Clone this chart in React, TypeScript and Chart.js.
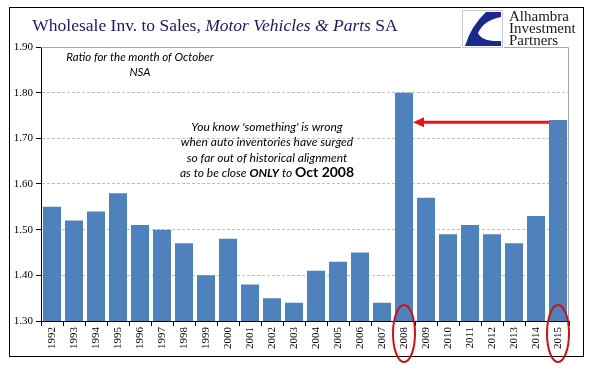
import React, { useEffect, useRef } from "react";
import { Chart, registerables } from "chart.js";

Chart.register(...registerables);

const years = [
  "1992", "1993", "1994", "1995", "1996", "1997", "1998", "1999", "2000", "2001", "2002", "2003",
  "2004", "2005", "2006", "2007", "2008", "2009", "2010", "2011", "2012", "2013", "2014", "2015",
];
const ratios = [
  1.55, 1.52, 1.54, 1.58, 1.51, 1.50, 1.47, 1.40, 1.48, 1.38, 1.35, 1.34,
  1.41, 1.43, 1.45, 1.34, 1.80, 1.57, 1.49, 1.51, 1.49, 1.47, 1.53, 1.74,
];
const yMin = 1.3;
const yMax = 1.9;
const yStep = 0.1;
const highlightedYears = ["2008", "2015"];
const arrowLevel = 1.735;

const titleParts = [
  { text: "Wholesale Inv. to Sales, ", italic: false },
  { text: "Motor Vehicles & Parts", italic: true },
  { text: " SA", italic: false },
];
const logoLines = ["Alhambra", "Investment", "Partners"];
const noteLines = ["Ratio for the month of October", "NSA"];
const calloutLines = [
  "You know 'something' is wrong",
  "when auto inventories have surged",
  "so far out of historical alignment",
];

const decor = {
  id: "decor",
  afterDraw(chart: any) {
    const ctx = chart.ctx as CanvasRenderingContext2D;
    const { chartArea, scales } = chart;
    const xs = scales.x;
    const ys = scales.y;
    ctx.save();

    // plot border top/right
    ctx.strokeStyle = "#A6A6A6";
    ctx.lineWidth = 1;
    ctx.beginPath();
    ctx.moveTo(chartArea.left, chartArea.top + 0.5);
    ctx.lineTo(chartArea.right - 0.5, chartArea.top + 0.5);
    ctx.lineTo(chartArea.right - 0.5, chartArea.bottom);
    ctx.stroke();

    // outer frame
    ctx.strokeStyle = "#000";
    ctx.lineWidth = 1;
    ctx.strokeRect(9.5, 7.5, 574, 349);

    // title
    const tFont = (it: boolean) => `${it ? "italic " : ""}17.5px "Liberation Serif", serif`;
    let total = 0;
    for (const p of titleParts) {
      ctx.font = tFont(p.italic);
      total += ctx.measureText(p.text).width;
    }
    let tx = 215 - total / 2;
    ctx.fillStyle = "#1F2060";
    ctx.textBaseline = "alphabetic";
    ctx.textAlign = "left";
    for (const p of titleParts) {
      ctx.font = tFont(p.italic);
      ctx.fillText(p.text, tx, 31);
      tx += ctx.measureText(p.text).width;
    }

    // logo box
    ctx.fillStyle = "#fff";
    ctx.fillRect(461, 9, 43, 40);
    ctx.strokeStyle = "#C8C8C8";
    ctx.strokeRect(462.5, 10.5, 40, 37);
    ctx.fillStyle = "#1B2A8A";
    ctx.beginPath();
    ctx.moveTo(501, 12);
    ctx.lineTo(486, 12);
    ctx.quadraticCurveTo(471, 26, 465, 46);
    ctx.lineTo(501, 46);
    ctx.lineTo(501, 41);
    ctx.quadraticCurveTo(482, 42, 478, 33);
    ctx.quadraticCurveTo(484, 20, 501, 17);
    ctx.closePath();
    ctx.fill();
    ctx.fillStyle = "#1a1a1a";
    ctx.font = '15px "Liberation Serif", serif';
    logoLines.forEach((l, i) => ctx.fillText(l, 509, 21 + i * 12));

    // notes
    ctx.fillStyle = "#000";
    ctx.textAlign = "center";
    ctx.textBaseline = "middle";
    ctx.font = 'italic 11.5px Lato, sans-serif';
    ctx.fillText(noteLines[0], 140, 57);
    ctx.fillText(noteLines[1], 140, 72);

    ctx.font = 'italic 12px Lato, sans-serif';
    calloutLines.forEach((l, i) => ctx.fillText(l, 267, 127 + i * 15.5));
    // last mixed line
    const parts = [
      { t: "as to be close ", f: 'italic 12px Lato, sans-serif' },
      { t: "ONLY", f: 'italic bold 12px Lato, sans-serif' },
      { t: " to ", f: 'italic 12px Lato, sans-serif' },
      { t: "Oct 2008", f: 'bold 14px Lato, sans-serif' },
    ];
    let w = 0;
    for (const p of parts) { ctx.font = p.f; w += ctx.measureText(p.t).width; }
    let px = 267 - w / 2;
    ctx.textAlign = "left";
    ctx.textBaseline = "alphabetic";
    for (const p of parts) {
      ctx.font = p.f;
      ctx.fillText(p.t, px, 177);
      px += ctx.measureText(p.t).width;
    }

    // arrow
    const meta = chart.getDatasetMeta(0);
    const i08 = years.indexOf(highlightedYears[0]);
    const i15 = years.indexOf(highlightedYears[1]);
    const b08 = meta.data[i08];
    const b15 = meta.data[i15];
    const sx = b15.x - b15.width / 2;
    const ex = b08.x + b08.width / 2;
    const ay = ys.getPixelForValue(arrowLevel);
    ctx.strokeStyle = "#EE1111";
    ctx.fillStyle = "#EE1111";
    ctx.lineWidth = 3;
    ctx.beginPath();
    ctx.moveTo(sx, ay);
    ctx.lineTo(ex + 8, ay);
    ctx.stroke();
    ctx.beginPath();
    ctx.moveTo(ex, ay);
    ctx.lineTo(ex + 11, ay - 5);
    ctx.lineTo(ex + 11, ay + 5);
    ctx.closePath();
    ctx.fill();

    // ellipses
    ctx.strokeStyle = "#C81414";
    ctx.lineWidth = 2;
    for (const yr of highlightedYears) {
      const cx = xs.getPixelForValue(years.indexOf(yr));
      ctx.beginPath();
      ctx.ellipse(cx, chartArea.bottom + 12.5, 11, 28.5, 0, 0, Math.PI * 2);
      ctx.stroke();
    }
    ctx.restore();
  },
};

export default function App() {
  const ref = useRef<HTMLCanvasElement | null>(null);
  useEffect(() => {
    document.body.style.margin = "0";
    const canvas = ref.current!;
    const chart = new Chart(canvas, {
      type: "bar",
      data: {
        labels: years,
        datasets: [
          {
            data: ratios,
            backgroundColor: "#4F81BD",
            borderWidth: 0,
            barPercentage: 0.82,
            categoryPercentage: 1,
          },
        ],
      },
      options: {
        responsive: false,
        animation: false,
        devicePixelRatio: 1,
        layout: { padding: { left: 0, right: 27, top: 47, bottom: 0 } },
        plugins: { legend: { display: false }, tooltip: { enabled: false }, title: { display: false } },
        scales: {
          x: {
            offset: true,
            grid: {
              offset: true,
              drawOnChartArea: false,
              drawTicks: true,
              tickLength: 5,
              tickColor: "#000",
            },
            border: { display: true, color: "#000", width: 1 },
            ticks: {
              minRotation: 90,
              maxRotation: 90,
              autoSkip: false,
              padding: 1,
              color: "#000",
              font: { family: '"Liberation Serif", serif', size: 11 },
            },
            afterFit: (s: any) => { s.height = 54; },
          },
          y: {
            min: yMin,
            max: yMax,
            ticks: {
              stepSize: yStep,
              padding: 3,
              color: "#000",
              font: { family: '"Liberation Serif", serif', size: 11 },
              callback: (v: any) => Number(v).toFixed(2),
            },
            grid: {
              color: (c: any) => {
                const v = c.tick ? c.tick.value : 0;
                return v > yMin + 0.01 && v < yMax - 0.01 ? "#BFBFBF" : "rgba(0,0,0,0)";
              },
              tickColor: "#000",
              tickLength: 5,
              tickBorderDash: [],
            },
            border: { display: true, color: "#000", width: 1, dash: [3, 2] },
            afterFit: (s: any) => { s.width = 41; },
          },
        },
      },
      plugins: [decor],
    });
    return () => chart.destroy();
  }, []);
  return (
    <canvas
      ref={ref}
      width={596}
      height={375}
      style={{ display: "block", width: 596, height: 375, position: "absolute", left: 0, top: 0 }}
    />
  );
}
